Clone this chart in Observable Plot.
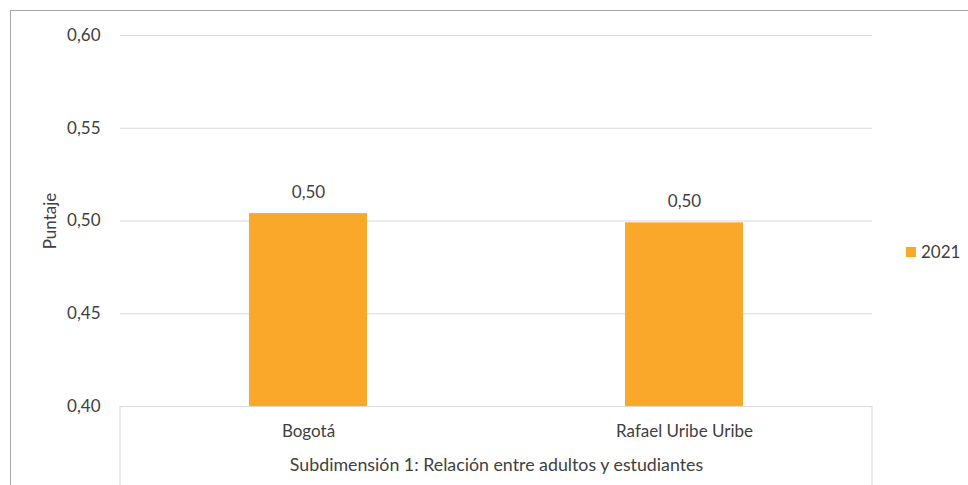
<!DOCTYPE html>
<html>
<head>
<meta charset="utf-8">
<script src="https://cdn.jsdelivr.net/npm/d3@7"></script>
<script src="https://cdn.jsdelivr.net/npm/@observablehq/plot@0.6"></script>
<style>
  html, body { margin: 0; padding: 0; background: white; overflow: hidden; }
  #wrap { position: relative; width: 968px; height: 485px; }
  #border { position: absolute; left: 10px; top: 10px; width: 2000px; height: 2000px; border: 1px solid #a6a6a6; pointer-events: none; }
  #legend { position: absolute; left: 906px; top: 241px; font-family: Lato, sans-serif; font-size: 17px; color: #404040; display: flex; align-items: center; }
  #legend .sw { width: 10px; height: 10px; margin-right: 5px; }
</style>
</head>
<body>
<div id="wrap"><div id="border"></div><div id="legend"></div></div>
<script>
const categories = ["Bogotá", "Rafael Uribe Uribe"];
const values2021 = [0.504, 0.499];
const seriesName = "2021";
const yTicks = [0.40, 0.45, 0.50, 0.55, 0.60];
const yLabel = "Puntaje";
const groupLabel = "Subdimensión 1: Relación entre adultos y estudiantes";

const barColor = "#F9A82A";
const textColor = "#404040";
const fmt = v => d3.format(".2f")(v).replace(".", ",");

const data = categories.map((c, i) => ({cat: c, value: values2021[i]}));
const yMin = yTicks[0];

const chart = Plot.plot({
  width: 968,
  height: 485,
  marginLeft: 120,
  marginRight: 96,
  marginTop: 35,
  marginBottom: 79,
  style: {fontFamily: "Lato, sans-serif", fontSize: "17px", color: textColor, background: "transparent"},
  x: {domain: categories, paddingInner: 0.686, paddingOuter: 0.343, axis: null},
  y: {domain: [yTicks[0], yTicks[yTicks.length - 1]], axis: null},
  marks: [
    Plot.ruleY(yTicks, {stroke: "#d9d9d9", strokeWidth: 1}),
    Plot.barY(data, {x: "cat", y1: yMin, y2: "value", fill: barColor}),
    Plot.text(data, {x: "cat", y: "value", text: d => fmt(d.value), dy: -21, fill: textColor}),
    Plot.axisY(yTicks, {tickSize: 0, tickPadding: 20, tickFormat: fmt, fill: textColor, label: null}),
    Plot.text(data, {x: "cat", y: () => yMin, text: "cat", dy: 25, fill: textColor}),
    Plot.text([groupLabel], {frameAnchor: "bottom", dy: 64, fill: textColor, fontSize: 17.8}),
    Plot.text([yLabel], {frameAnchor: "left", textAnchor: "middle", rotate: -90, dx: -70, fill: textColor})
  ]
});

document.getElementById("wrap").prepend(chart);

// category axis box lines
const xs = chart.scale("x").range;
const y0 = chart.scale("y").apply(yMin);
const svg = d3.select(chart);
[xs[0], xs[1]].forEach(x => {
  svg.append("line")
    .attr("x1", x).attr("x2", x)
    .attr("y1", y0).attr("y2", 485)
    .attr("stroke", "#d9d9d9").attr("stroke-width", 1);
});

// legend
const lg = document.getElementById("legend");
lg.innerHTML = `<div class="sw" style="background:${barColor}"></div><span>${seriesName}</span>`;
</script>
</body>
</html>
